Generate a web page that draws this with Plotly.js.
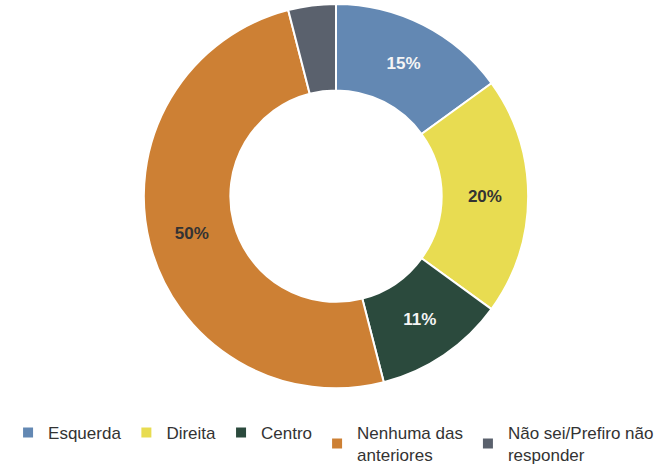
<!DOCTYPE html>
<html>
<head>
<meta charset="utf-8">
<script src="https://cdn.plot.ly/plotly-3.0.1.min.js"></script>
<style>body{margin:0;background:#fff;}#chart{width:672px;height:473px;}</style>
</head>
<body>
<div id="chart"></div>
<script>
const labels = ["Esquerda", "Direita", "Centro", "Nenhuma das<br>anteriores", "Não sei/Prefiro não<br>responder"];
const values = [15, 20, 11, 50, 4];
const colors = ["#6388b3", "#e8dc51", "#2b4a3d", "#cd8034", "#5a616d"];
const textColors = ["#f5f5f5", "#333333", "#f5f5f5", "#333333", "#333333"];
const templates = ["%{value}%", "%{value}%", "%{value}%", "%{value}%", ""];

const data = [{
  type: "pie",
  labels: labels,
  values: values,
  hole: 0.55,
  sort: false,
  direction: "clockwise",
  rotation: 0,
  domain: {x: [0, 1], y: [0.1755, 0.9915]},
  marker: {colors: colors, line: {color: "#ffffff", width: 2}},
  texttemplate: templates,
  textposition: "inside",
  insidetextorientation: "horizontal",
  textfont: {family: "Liberation Sans, Arial, sans-serif", size: 17, color: textColors, weight: "bold"},
  hoverinfo: "label+value"
}];

const layout = {
  width: 672, height: 473,
  margin: {l: 0, r: 0, t: 0, b: 0},
  paper_bgcolor: "#ffffff",
  showlegend: true,
  legend: {
    orientation: "h",
    x: 0.012, xanchor: "left",
    y: -0.005, yanchor: "bottom",
    bgcolor: "rgba(0,0,0,0)",
    font: {family: "Liberation Sans, Arial, sans-serif", size: 17, color: "#333333"},
    itemwidth: 30,
    tracegroupgap: 0
  },
  font: {family: "Liberation Sans, Arial, sans-serif"}
};

Plotly.newPlot("chart", data, layout, {displayModeBar: false, staticPlot: true});
</script>
</body>
</html>
